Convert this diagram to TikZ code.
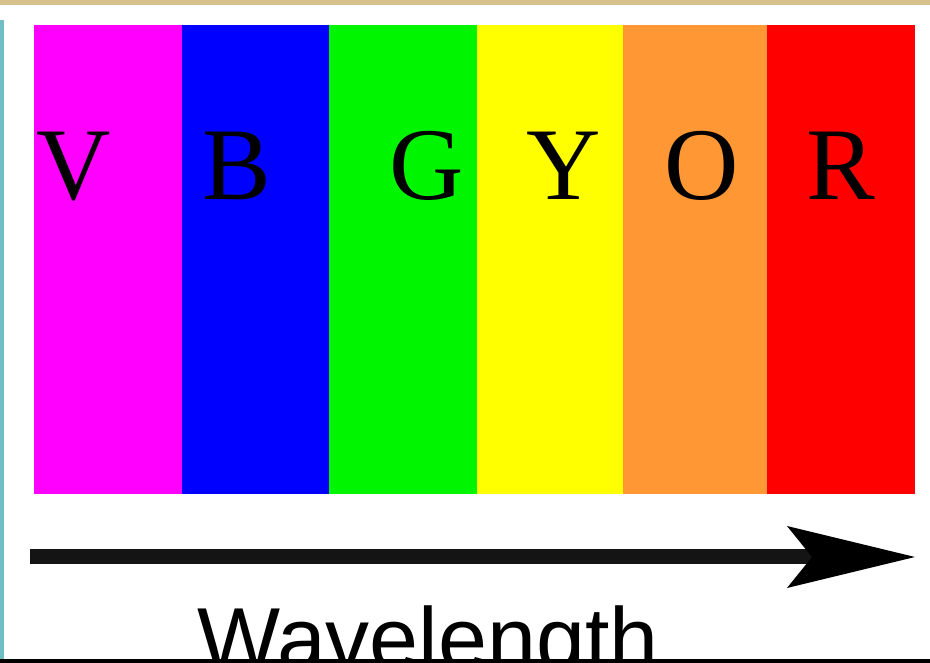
\documentclass[tikz,border=0pt]{standalone}
\usepackage{fontspec}
\setmainfont{Liberation Serif}
\newfontfamily\labelsans{Liberation Sans}
\definecolor{cviolet}{RGB}{255,0,255}
\definecolor{cblue}{RGB}{0,0,255}
\definecolor{cgreen}{RGB}{0,245,0}
\definecolor{cyellow}{RGB}{255,255,0}
\definecolor{corange}{RGB}{255,152,52}
\definecolor{cred}{RGB}{255,0,0}
\definecolor{ctan}{RGB}{214,192,140}
\definecolor{cteal}{RGB}{110,190,195}
\begin{document}
\begin{tikzpicture}[x=1pt,y=1pt,
  bar/.style={draw=none,inner sep=0pt,outer sep=0pt,minimum height=469pt,anchor=south west},
  letter/.style={font=\fontsize{103}{103}\selectfont,anchor=base,inner sep=0pt,text=black}]
\useasboundingbox (0,0) rectangle (930,663);
\fill[white] (0,0) rectangle (930,663);
% frame strips
\fill[ctan] (0,658) rectangle (930,663);
\fill[cteal] (0,0) rectangle (4,643);
% colour bars
\node[bar,fill=cviolet,minimum width=148pt] (barV) at (34,169) {};
\node[bar,fill=cblue,minimum width=147pt] (barB) at (182,169) {};
\node[bar,fill=cgreen,minimum width=148pt] (barG) at (329,169) {};
\node[bar,fill=cyellow,minimum width=146pt] (barY) at (477,169) {};
\node[bar,fill=corange,minimum width=144pt] (barO) at (623,169) {};
\node[bar,fill=cred,minimum width=148pt] (barR) at (767,169) {};
% letters
\node[letter] (lV) at (74,463) {V};
\node[letter] (lB) at (237,463) {B};
\node[letter] (lG) at (427,463) {G};
\node[letter] (lY) at (564,463) {Y};
\node[letter] (lO) at (702,463) {O};
\node[letter] (lR) at (841,463) {R};
% arrow
\coordinate (astart) at (30,106);
\coordinate (anotch) at (812,106);
\coordinate (atip) at (915,106);
\draw[line width=15pt,black!92] (astart) -- (anotch);
\fill[black] (atip) -- ++(-128,31) -- (anotch) -- ++(-25,-31) -- cycle;
% label
\node[font=\labelsans\fontsize{88}{88}\selectfont,anchor=base west,inner sep=0pt] (wl) at (197,-7) {Wavelength};
% bottom edge
\fill[black] (0,0) rectangle (930,4);
\end{tikzpicture}
\end{document}
